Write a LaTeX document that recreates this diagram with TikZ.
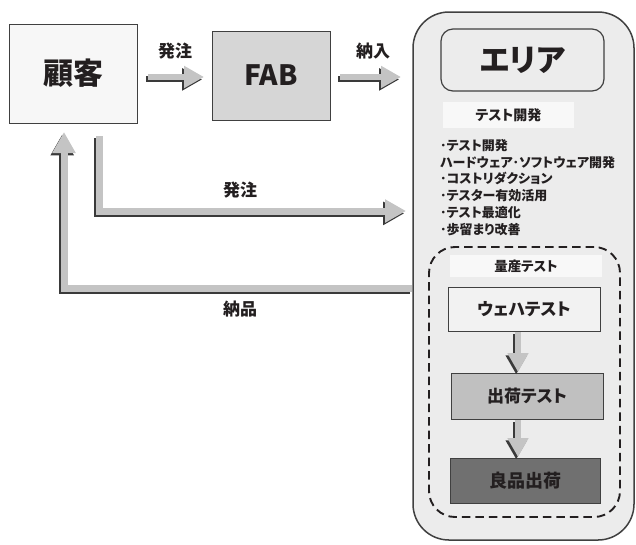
\documentclass[tikz,border=0pt]{standalone}
\usepackage{fontspec}
\setmainfont{Noto Sans CJK JP}[RawFeature=+palt]
\usetikzlibrary{arrows.meta,shadows}
\definecolor{ink}{HTML}{231F20}
\definecolor{edge}{HTML}{404040}
\definecolor{cKok}{HTML}{F7F7F7}
\definecolor{cFab}{HTML}{D6D6D6}
\definecolor{cArea}{HTML}{ECECEC}
\definecolor{cBand}{HTML}{F8F8F8}
\definecolor{cWafer}{HTML}{F2F2F2}
\definecolor{cShip}{HTML}{C0C0C0}
\definecolor{cGood}{HTML}{707070}
\definecolor{arrowlight}{HTML}{C4C4C4}
\definecolor{arrowdark}{HTML}{3A3A3A}
\tikzset{
  box/.style={draw=edge, line width=0.9pt, inner sep=0pt, text=ink,
    drop shadow={shadow xshift=1.2pt, shadow yshift=-1.2pt, fill=black!45, opacity=0.6}},
  band/.style={fill=cBand, inner sep=0pt, text=ink},
  lbl/.style={text=ink, inner sep=0pt, font=\bfseries\fontsize{17}{17}\selectfont},
  fatarrow/.style={draw=arrowlight, line width=#1, line join=miter},
  fatshadow/.style={draw=arrowdark, line width=#1, line join=miter,
    transform canvas={shift={(-1.8pt,-2.4pt)}}},
  headS/.style={-{Triangle[width=21pt,length=20pt]}},
  headL/.style={-{Triangle[width=22pt,length=21pt]}},
  headD/.style={-{Triangle[width=20pt,length=19pt]}},
}
\begin{document}
\begin{tikzpicture}[x=1pt,y=-1pt]
\useasboundingbox (0,0) rectangle (636,544);

% big area
\node[draw=edge, line width=1.5pt, fill=cArea, rounded corners=36pt,
  minimum width=221pt, minimum height=528pt, inner sep=0pt] (area) at (523.5,276) {};

% customer and FAB
\node[box, fill=cKok, minimum width=128pt, minimum height=99pt,
  font=\bfseries\fontsize{30}{30}\selectfont] (kokyaku) at (73,73.5) {顧客};
\node[box, fill=cFab, minimum width=118pt, minimum height=89pt,
  font=\bfseries\fontsize{28}{28}\selectfont] (fab) at (271,75.5) {FAB};

% area title
\node[draw=edge, line width=1.2pt, fill=cArea, rounded corners=12pt,
  minimum width=163pt, minimum height=62pt, inner sep=0pt, text=ink,
  font=\bfseries\fontsize{31}{31}\selectfont] (eria) at (522.5,60) {エリア};

\node[band, minimum width=131pt, minimum height=26pt,
  font=\bfseries\fontsize{14}{14}\selectfont] (devhead) at (508.5,115) {テスト開発};

\node[anchor=north west, align=left, inner sep=0pt, text=ink,
  font=\bfseries\fontsize{13}{16.8}\selectfont] (devlist) at (440,139)
  {･テスト開発\\ハードウェア･ソフトウェア開発\\･コストリダクション\\･テスター有効活用\\･テスト最適化\\･歩留まり改善};

% mass production
\node[draw=ink, line width=1.9pt, dash pattern=on 8.5pt off 5pt, rounded corners=26pt,
  minimum width=191pt, minimum height=270pt, inner sep=0pt] (mass) at (524.5,382) {};
\node[band, minimum width=152pt, minimum height=22pt,
  font=\bfseries\fontsize{13.5}{13.5}\selectfont] (masshead) at (526,266) {量産テスト};

\node[box, fill=cWafer, minimum width=152pt, minimum height=44pt,
  font=\bfseries\fontsize{17}{17}\selectfont] (wafer) at (524,309) {ウェハテスト};
\node[box, fill=cShip, minimum width=152pt, minimum height=46pt,
  font=\bfseries\fontsize{17}{17}\selectfont] (ship) at (527,396) {出荷テスト};
\node[box, fill=cGood, minimum width=150pt, minimum height=45pt,
  font=\bfseries\fontsize{18}{18}\selectfont] (good) at (525,480.5) {良品出荷};

% labels
\node[lbl] (l1) at (175,51) {発注};
\node[lbl] (l2) at (373,51) {納入};
\node[lbl] (l3) at (240,190) {発注};
\node[lbl] (l4) at (240,309) {納品};

% arrow end points
\coordinate (a1s) at (148,77);
\coordinate (a1e) at (204,77);
\coordinate (a2s) at (340,77);
\coordinate (a2e) at (401,77);
\coordinate (b1s) at (99,136);
\coordinate (b1c) at (99,211);
\coordinate (b1e) at (406,211);
\coordinate (b2s) at (412,288);
\coordinate (b2c) at (64,288);
\coordinate (b2e) at (64,132);
\coordinate (d1s) at (518,332);
\coordinate (d1e) at (518,372);
\coordinate (d2s) at (518,420);
\coordinate (d2e) at (518,457);

\draw[fatshadow=6pt, headS] (a1s) -- (a1e);
\draw[fatarrow=6pt, headS] (a1s) -- (a1e);
\draw[fatshadow=6pt, headS] (a2s) -- (a2e);
\draw[fatarrow=6pt, headS] (a2s) -- (a2e);
\draw[fatshadow=7pt, headL] (b1s) -- (b1c) -- (b1e);
\draw[fatarrow=7pt, headL] (b1s) -- (b1c) -- (b1e);
\draw[fatshadow=7pt, headL] (b2s) -- (b2c) -- (b2e);
\draw[fatarrow=7pt, headL] (b2s) -- (b2c) -- (b2e);
\draw[fatshadow=6pt, headD] (d1s) -- (d1e);
\draw[fatarrow=6pt, headD] (d1s) -- (d1e);
\draw[fatshadow=6pt, headD] (d2s) -- (d2e);
\draw[fatarrow=6pt, headD] (d2s) -- (d2e);
\end{tikzpicture}
\end{document}
